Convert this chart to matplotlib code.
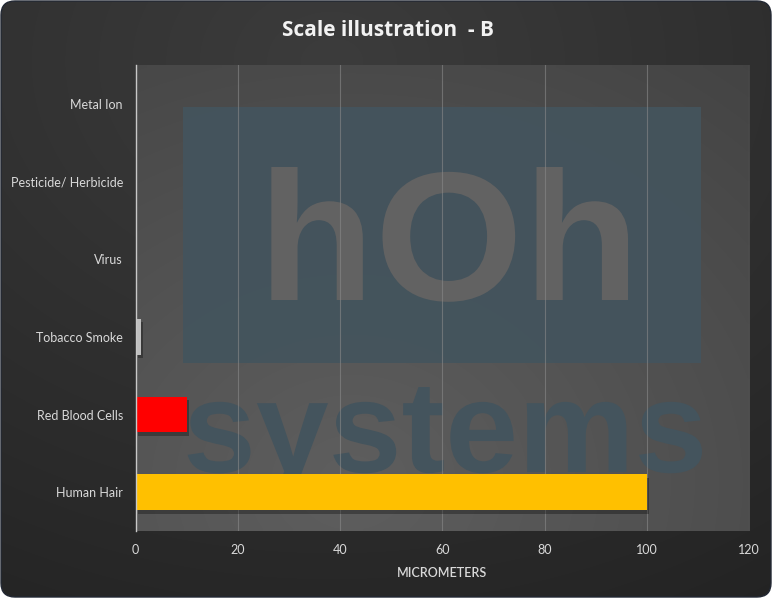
import numpy as np
import matplotlib
matplotlib.use("Agg")
import matplotlib.pyplot as plt
from matplotlib.patches import FancyBboxPatch, Rectangle, PathPatch
from matplotlib.textpath import TextPath
from matplotlib.font_manager import FontProperties
from matplotlib.path import Path
import matplotlib.patheffects as pe

categories = ["Human Hair", "Red Blood Cells", "Tobacco Smoke", "Virus",
              "Pesticide/ Herbicide", "Metal Ion"]
values = [100, 10, 1, 0.1, 0.001, 0.0001]
bar_colors = ["#FFC000", "#FF0000", "#BFBFBF", "#5B9BD5", "#5B9BD5", "#5B9BD5"]
xticks = [0, 20, 40, 60, 80, 100, 120]
title = "Scale illustration  - B"
xlabel = "MICROMETERS"

W, H = 772, 598
fig = plt.figure(figsize=(W / 100, H / 100), dpi=100)
fig.patch.set_facecolor("#ffffff")

# outer background with gradient, rounded
bgax = fig.add_axes([0, 0, 1, 1], zorder=-10)
bgax.set_xlim(0, W)
bgax.set_ylim(H, 0)
bgax.axis("off")
yy, xx = np.mgrid[0:H:4, 0:W:4]
d = np.sqrt(((xx - 330) / W) ** 2 + ((yy - 60) / H) ** 2)
g = 0.235 - 0.09 * d
img = np.dstack([g, g, g])
im = bgax.imshow(np.clip(img, 0, 1), extent=[0, W, H, 0], aspect="auto",
                 interpolation="bilinear")
rr = FancyBboxPatch((1, 1), W - 2, H - 2, boxstyle="round,pad=0,rounding_size=14",
                    transform=bgax.transData, facecolor="none",
                    edgecolor="#222834", linewidth=1.0)
bgax.add_patch(rr)
im.set_clip_path(rr)

# plot axes
L, R, T, B = 135.5, 749, 65, 531
ax = fig.add_axes([L / W, 1 - B / H, (R - L) / W, (B - T) / H])
ax.set_facecolor("none")

# plot area gradient
py, px = np.mgrid[0:1:100j, 0:1:160j]
pd_ = np.sqrt(((px - 0.35)) ** 2 + ((py - 0.1) * 0.9) ** 2)
pg = 0.37 - 0.1 * pd_
ax.imshow(np.dstack([pg, pg, pg]), extent=[0, 120, len(categories) - 0.5, -0.5],
          aspect="auto", zorder=0, interpolation="bilinear")
ax.set_xlim(0, 120)
ax.set_ylim(-0.5, len(categories) - 0.5)


def px2fig(x, y):
    return x / W, 1 - y / H


# watermark rectangle
x0, y0 = px2fig(183, 363)
x1, y1 = px2fig(701, 107)
wm_rect = Rectangle((x0, y0), x1 - x0, y1 - y0, transform=fig.transFigure,
                    facecolor="#44545d", edgecolor="none", zorder=0.2, alpha=0.95)
ax.add_artist(wm_rect)


def fit_text(s, bx0, btop, bx1, bbase, color, z):
    # fit text horizontally to [bx0,bx1], top of glyphs at btop, baseline at bbase
    fp = FontProperties(family="Liberation Sans", weight="bold")
    tp = TextPath((0, 0), s, size=100, prop=fp)
    v = tp.vertices
    mnx, mxx = v[:, 0].min(), v[:, 0].max()
    mxy = v[:, 1].max()
    fx0, _ = px2fig(bx0, 0)
    fx1, _ = px2fig(bx1, 0)
    _, fbase = px2fig(0, bbase)
    _, ftop = px2fig(0, btop)
    nv = np.empty_like(v)
    nv[:, 0] = fx0 + (v[:, 0] - mnx) / (mxx - mnx) * (fx1 - fx0)
    nv[:, 1] = fbase + v[:, 1] / mxy * (ftop - fbase)
    p = Path(nv, tp.codes)
    patch = PathPatch(p, transform=fig.transFigure, facecolor=color,
                      edgecolor="none", zorder=z)
    ax.add_artist(patch)


fit_text("hOh", 258, 167, 628, 300, "#626262", 0.3)
fit_text("systems", 183, 387, 702, 472, "#44545d", 0.3)

ax.set_axisbelow(True)
ax.grid(axis="x", color="#8a8a8a", linewidth=0.8, alpha=0.6, zorder=0.5)
ax.grid(axis="y", visible=False)

ypos = np.arange(len(categories))
bars = ax.barh(ypos, values, height=0.46, color=bar_colors, zorder=3)
for b, v in zip(bars, values):
    if v >= 0.5:
        b.set_path_effects([pe.SimplePatchShadow(offset=(1.5, -2.5),
                                                 shadow_rgbFace="black", alpha=0.3),
                            pe.Normal()])

for s in ["top", "right", "bottom"]:
    ax.spines[s].set_visible(False)
ax.spines["left"].set_color("#c8c8c8")
ax.spines["left"].set_linewidth(1.0)
ax.spines["left"].set_zorder(4)

ax.set_yticks(ypos)
ax.set_yticklabels(categories, fontsize=9, color="#d9d9d9", family="Lato")
ax.set_xticks(xticks)
ax.set_xticklabels([str(t) for t in xticks], fontsize=9, color="#d9d9d9",
                   family="Lato")
ax.tick_params(axis="both", length=0)
ax.tick_params(axis="y", pad=9)
ax.tick_params(axis="x", pad=9)
ax.set_xlabel(xlabel, fontsize=9, color="#d9d9d9", labelpad=8, family="Lato",
              fontweight="semibold")

fig.text(388 / W, 1 - 31 / H, title, ha="center", va="center", fontsize=15,
         color="#f2f2f2", family="Open Sans", fontweight="bold")

fig.savefig("out.png", dpi=100, facecolor=fig.get_facecolor())
